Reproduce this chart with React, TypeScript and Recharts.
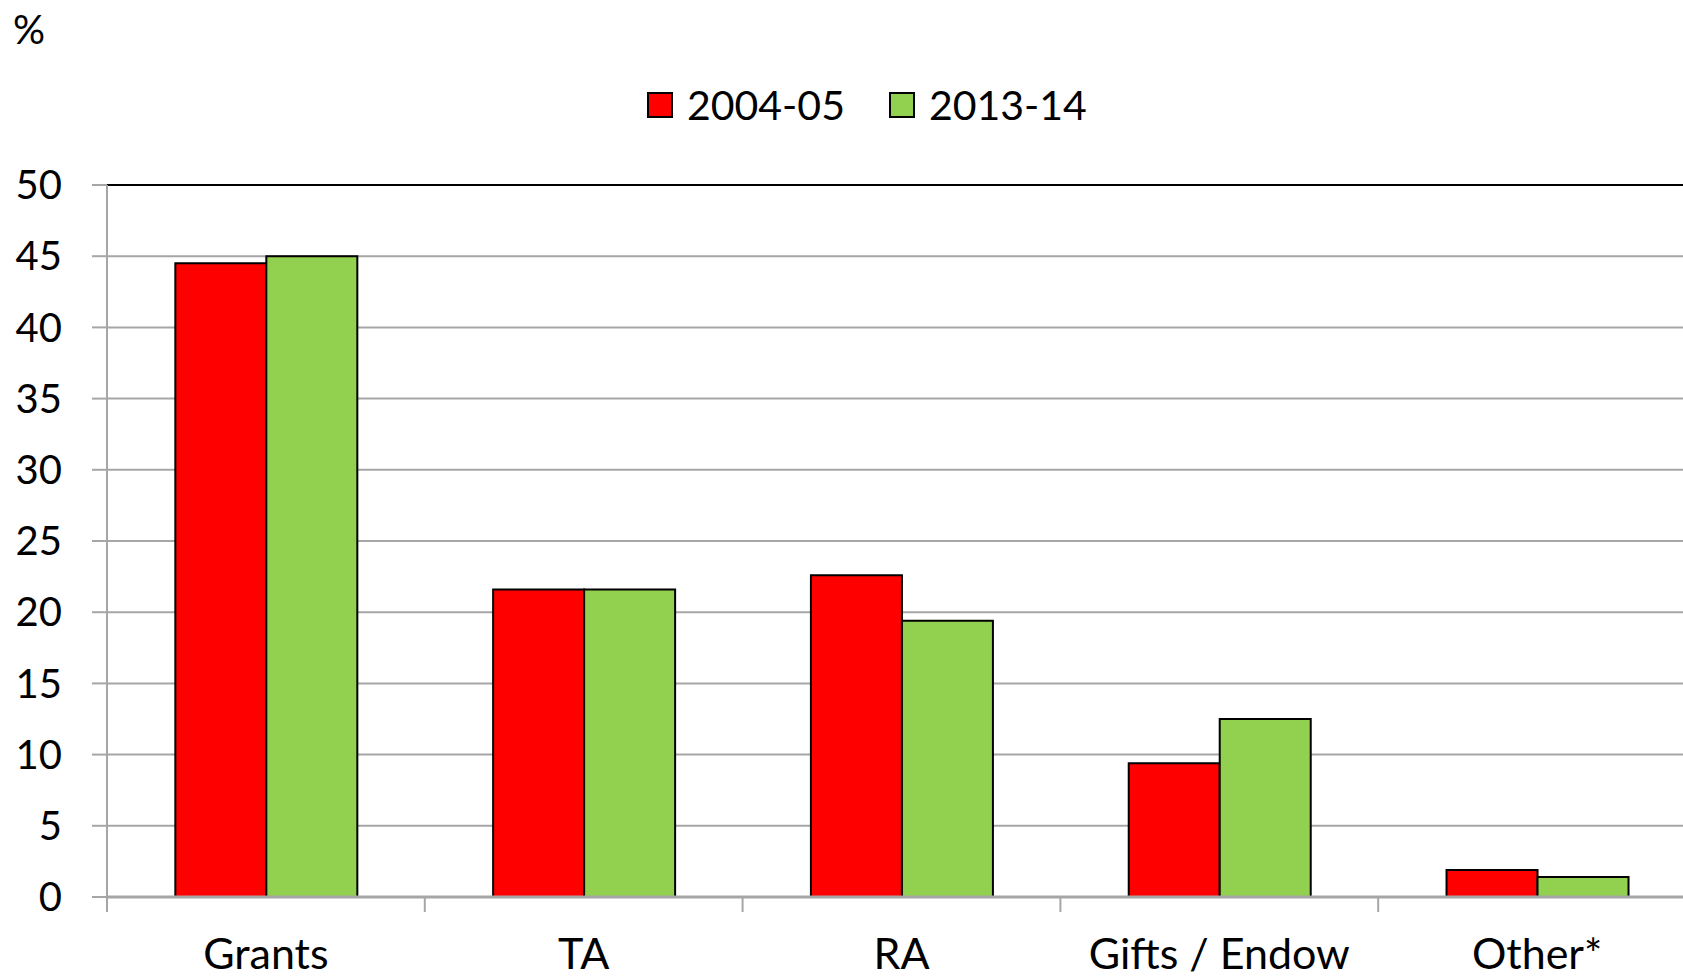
import { Bar, BarChart, CartesianGrid, Legend, ReferenceLine, XAxis, YAxis } from "recharts";

const categories = ["Grants", "TA", "RA", "Gifts / Endow", "Other*"];
const values0405 = [44.5, 21.6, 22.6, 9.4, 1.9];
const values1314 = [45.0, 21.6, 19.4, 12.5, 1.4];
const yTicks = [0, 5, 10, 15, 20, 25, 30, 35, 40, 45, 50];

const data = categories.map((name, i) => ({
	name,
	y0405: values0405[i],
	y1314: values1314[i],
}));

const FONT = "Lato, 'Open Sans', sans-serif";
const GRID = "#a6a6a6";

function CategoryTick(props: any) {
	const { x, y, payload } = props;
	const half = payload.offset || 0;
	return (
		<g>
			<line x1={x - half} x2={x - half} y1={y} y2={y + 15} stroke={GRID} strokeWidth={2} />
			<text x={x} y={y + 72} textAnchor="middle" fontSize={43} fontFamily={FONT} fill="#000">
				{payload.value}
			</text>
		</g>
	);
}

function LegendContent(props: any) {
	const { payload } = props;
	return (
		<div style={{ display: "flex", alignItems: "center", fontFamily: FONT }}>
			{payload.map((item: any) => (
				<div key={item.value} style={{ display: "flex", alignItems: "center", marginRight: 44 }}>
					<div
						style={{
							width: 26,
							height: 26,
							boxSizing: "border-box",
							border: "2px solid #000",
							background: item.color,
							marginRight: 14,
						}}
					/>
					<span style={{ fontSize: 41, lineHeight: "50px", color: "#000" }}>{item.value}</span>
				</div>
			))}
		</div>
	);
}

export default function App() {
	return (
		<div
			style={{
				position: "absolute",
				left: 0,
				top: 0,
				width: 1683,
				height: 978,
				overflow: "hidden",
				background: "#fff",
			}}
		>
			<div
				style={{
					position: "absolute",
					left: 13,
					top: 4,
					fontSize: 40,
					fontFamily: FONT,
					color: "#000",
					lineHeight: "50px",
				}}
			>
				%
			</div>
			<BarChart
				width={1696}
				height={978}
				data={data}
				margin={{ top: 185, right: 0, left: 0, bottom: 0 }}
				barCategoryGap="21.5%"
				barGap={0}
			>
				<CartesianGrid vertical={false} stroke={GRID} strokeWidth={2} />
				<XAxis
					dataKey="name"
					height={81}
					axisLine={{ stroke: GRID, strokeWidth: 3 }}
					tickLine={false}
					tickSize={0}
					tickMargin={0}
					interval={0}
					tick={<CategoryTick />}
				/>
				<YAxis
					width={107}
					domain={[0, 50]}
					ticks={yTicks}
					interval={0}
					axisLine={{ stroke: GRID, strokeWidth: 2 }}
					tickLine={{ stroke: GRID, strokeWidth: 2 }}
					tickSize={15}
					tickMargin={30}
					tick={{ fontSize: 40, fontFamily: FONT, fill: "#000" }}
				/>
				<ReferenceLine y={50} stroke="#000" strokeWidth={2} />
				<Legend
					layout="horizontal"
					verticalAlign="middle"
					align="center"
					wrapperStyle={{ left: 647, top: 80, width: "auto" }}
					content={<LegendContent />}
				/>
				<Bar dataKey="y0405" name="2004-05" fill="#ff0000" stroke="#000" strokeWidth={2} isAnimationActive={false} />
				<Bar dataKey="y1314" name="2013-14" fill="#92d050" stroke="#000" strokeWidth={2} isAnimationActive={false} />
			</BarChart>
		</div>
	);
}
